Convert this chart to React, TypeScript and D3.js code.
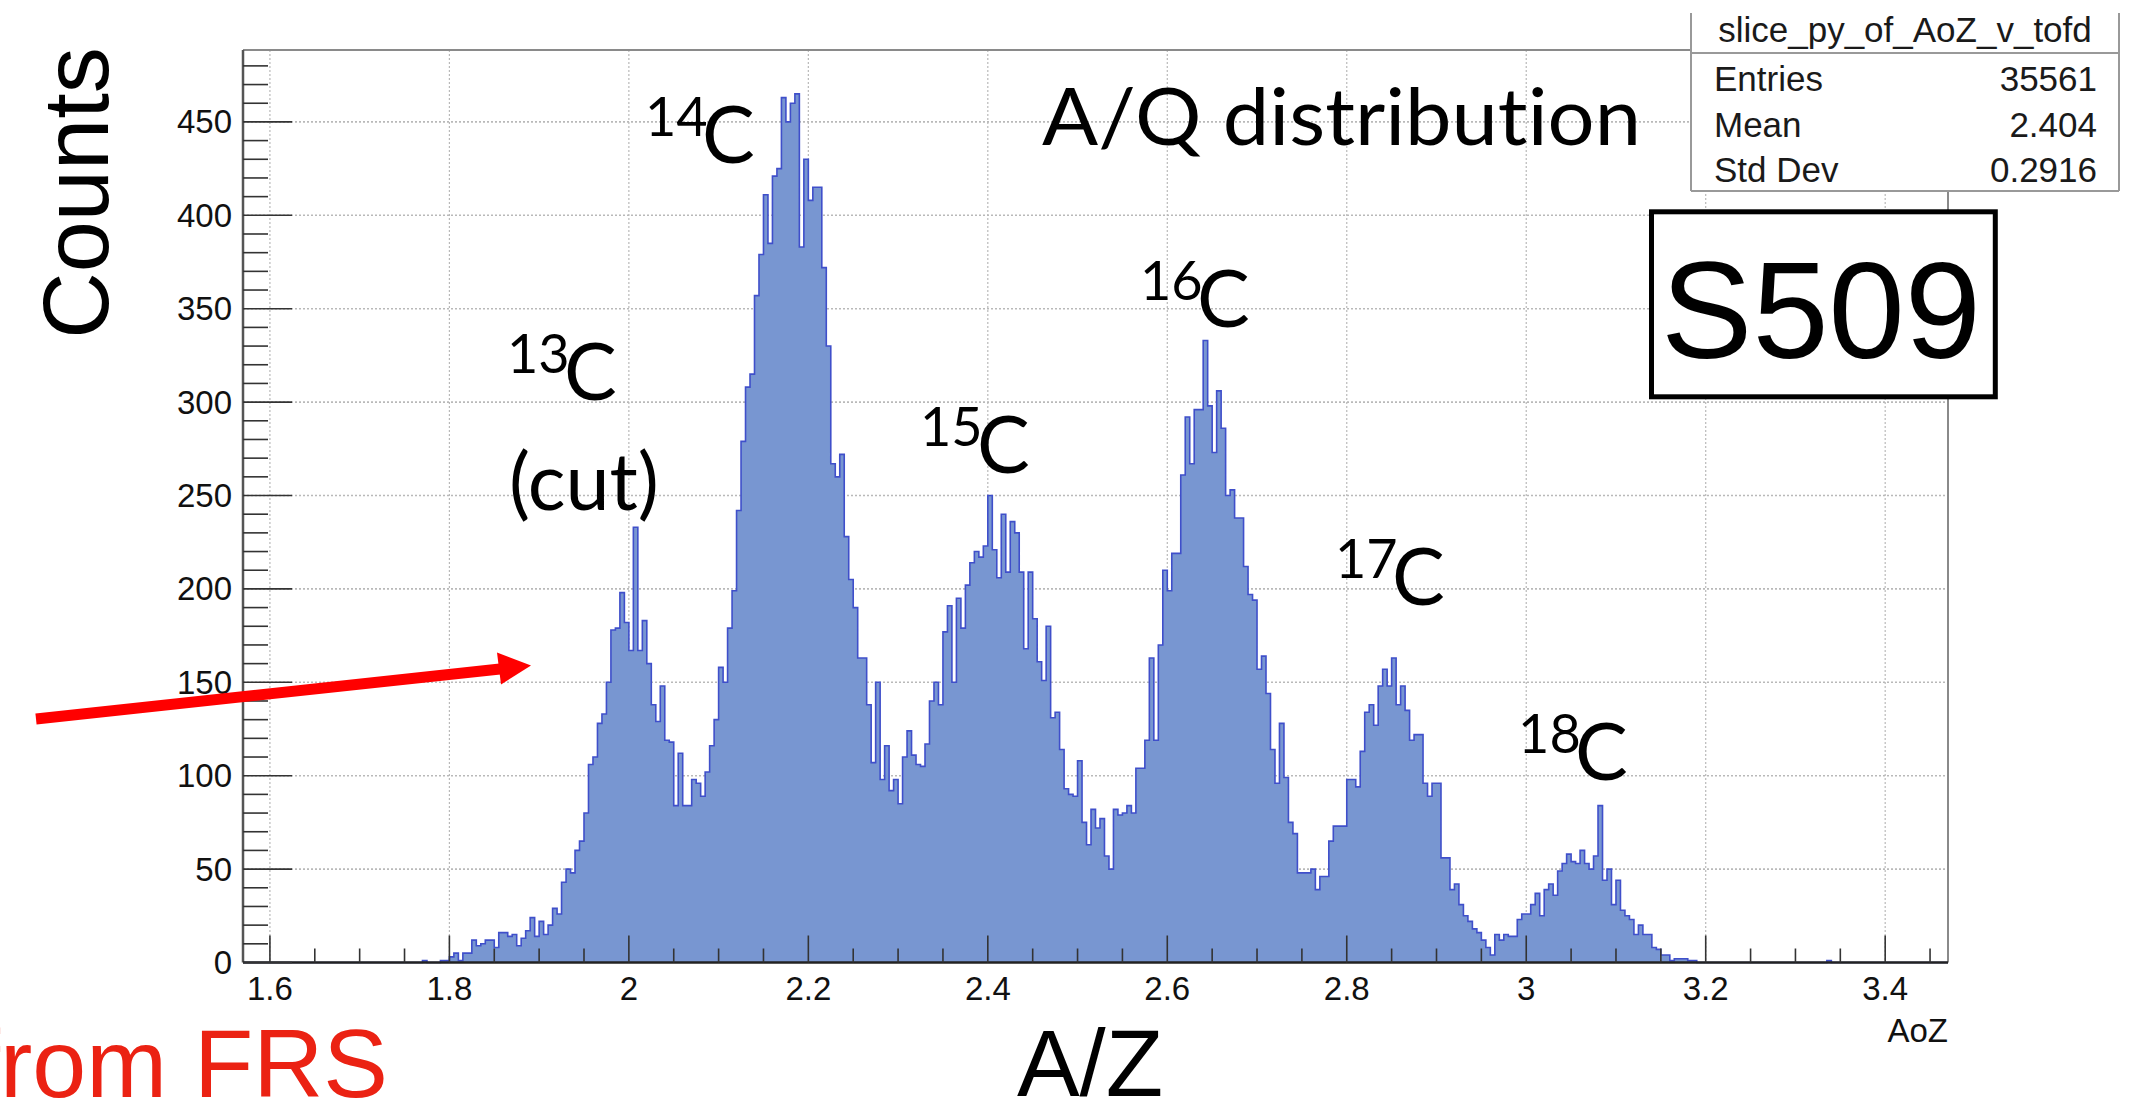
import React from "react";
import * as d3 from "d3";

// ---------------- data (bin width 0.005, first bin edge 1.770) ----------------
const BIN_WIDTH = 0.005;
const FIRST_BIN_EDGE = 1.77;

const lowTailCounts = [1, 0, 0, 0, 1, 1, 3, 5, 1, 5, 5, 12, 9, 10, 12, 12, 8, 16, 16, 14, 15, 9, 13, 17, 24, 14, 22, 15, 20, 29, 26];
const c13Counts = [43, 50, 48, 60, 65, 80, 106, 110, 128, 133, 150, 178, 179, 198, 182, 167, 233, 167, 183, 160, 138, 129, 148, 119, 118, 84, 112, 84, 84, 98, 96, 89, 102, 116, 130, 158, 150, 179];
const c14Counts = [199, 242, 279, 308, 315, 357, 379, 411, 385, 421, 425, 463, 450, 460, 465, 383, 430, 408, 415, 415, 372, 330, 267, 260, 272, 228, 205];
const valley14to15 = [190, 163, 163, 138, 107, 150, 98, 116, 92, 98, 85, 110, 124, 111, 106, 105, 117, 140, 150, 138];
const c15Counts = [177, 191, 150, 195, 179, 202, 214, 220, 217, 223, 250, 221, 206, 240, 209, 236, 230, 209, 168, 209, 184, 161, 151, 180, 131];
const valley15to16 = [134, 114, 93, 90, 89, 108, 75, 63, 82, 72, 77, 57, 50, 82, 79, 80, 84, 80, 104, 104, 119, 163];
const c16Counts = [119, 170, 210, 199, 219, 219, 261, 292, 267, 296, 296, 333, 298, 273, 306, 286, 250, 253, 238, 238, 212, 197, 194, 157];
const valley16to17 = [164, 144, 114, 96, 128, 99, 75, 69, 48, 48, 48, 50, 39, 46, 46, 65, 73, 73, 73, 98];
const c17Counts = [98, 94, 113, 134, 138, 127, 148, 157, 148, 163, 138, 148, 135, 119, 122, 122, 96, 89, 96, 96];
const valley17to18 = [56, 56, 39, 42, 31, 25, 22, 18, 16, 12, 8, 4, 15, 12, 15, 14, 14, 23, 26];
const c18Counts = [26, 31, 37, 25, 39, 42, 36, 49, 53, 58, 54, 53, 60, 53, 50, 57, 84, 44, 50, 31, 44, 28, 25, 23, 15, 20, 15, 15, 8, 7, 4, 4, 1, 2, 2, 2, 1, 1];
const strayEdges = [3.335];
const strayCounts = [1];

const X_RANGE = [1.57, 3.47];
const Y_RANGE = [0, 488.5];

const xMajorTicks = [1.6, 1.8, 2.0, 2.2, 2.4, 2.6, 2.8, 3.0, 3.2, 3.4];
const xTickLabels = ["1.6", "1.8", "2", "2.2", "2.4", "2.6", "2.8", "3", "3.2", "3.4"];
const yMajorTicks = [0, 50, 100, 150, 200, 250, 300, 350, 400, 450];
const yTickLabels = ["0", "50", "100", "150", "200", "250", "300", "350", "400", "450"];

const isotopeMasses = ["13", "14", "15", "16", "17", "18"];
const isotopeAoZ = [1.9322, 2.086, 2.3924, 2.6376, 2.8549, 3.0589];
const isotopeCounts = [301, 428, 262, 340.2, 191.4, 97.7];

const statsNames = ["Entries", "Mean", "Std Dev"];
const statsValues = ["35561", "2.404", "0.2916"];

// ---------------- styles ----------------
const HELV = "'Liberation Sans', Arial, Helvetica, sans-serif";
const CAL = "Lato, 'Open Sans', sans-serif";
const noLig = { fontVariantLigatures: "none", fontFeatureSettings: "'liga' 0, 'clig' 0" } as React.CSSProperties;

export default function App() {
  const W = 2151;
  const H = 1106;
  const L = 243, R = 1948, T = 50, B = 962.5;

  const xScale = d3.scaleLinear().domain(X_RANGE).range([L, R]);
  const yScale = d3.scaleLinear().domain(Y_RANGE).range([B, T]);

  const mainCounts = [
    ...lowTailCounts, ...c13Counts, ...c14Counts, ...valley14to15, ...c15Counts,
    ...valley15to16, ...c16Counts, ...valley16to17, ...c17Counts, ...valley17to18, ...c18Counts,
  ];
  const r = (v: number) => Math.round(v * 10000) / 10000;
  const bins = mainCounts.map((c, i) => ({
    x0: r(FIRST_BIN_EDGE + i * BIN_WIDTH),
    x1: r(FIRST_BIN_EDGE + (i + 1) * BIN_WIDTH),
    c,
  }));
  strayEdges.forEach((e, i) => bins.push({ x0: e, x1: r(e + BIN_WIDTH), c: strayCounts[i] }));
  bins.sort((a, b) => a.x0 - b.x0);

  const pts: [number, number][] = [[X_RANGE[0], 0]];
  let prevX1 = X_RANGE[0];
  bins.forEach((b) => {
    if (b.x0 > prevX1 + 1e-9) {
      pts.push([prevX1, 0]);
      pts.push([b.x0, 0]);
    }
    pts.push([b.x0, b.c]);
    pts.push([b.x1, b.c]);
    prevX1 = b.x1;
  });
  pts.push([prevX1, 0]);
  pts.push([X_RANGE[1], 0]);

  const area = d3.area<[number, number]>()
    .x((d) => xScale(d[0]))
    .y0(yScale(0))
    .y1((d) => yScale(d[1]));
  const line = d3.line<[number, number]>()
    .x((d) => xScale(d[0]))
    .y((d) => yScale(d[1]));

  const xMinorTicks = d3.range(0, 38).map((i) => r(1.6 + i * 0.05)).filter((v) => v <= X_RANGE[1] && !xMajorTicks.some((m) => Math.abs(m - v) < 1e-6));
  const yMinorTicks = d3.range(0, 49).map((i) => i * 10).filter((v) => v <= Y_RANGE[1] && v % 50 !== 0);

  const gridColor = "#b9b9b9";
  const tickColor = "#333";

  return (
    <svg width={W} height={H} style={{ position: "absolute", left: 0, top: 0, background: "#fff" }}>
      <rect x={0} y={0} width={W} height={H} fill="#fff" />

      {/* grid */}
      {xMajorTicks.map((t) => (
        <line key={"gx" + t} x1={xScale(t)} x2={xScale(t)} y1={T} y2={B} stroke={gridColor} strokeWidth={1.2} strokeDasharray="2 2" />
      ))}
      {yMajorTicks.filter((t) => t > 0).map((t) => (
        <line key={"gy" + t} x1={L} x2={R} y1={yScale(t)} y2={yScale(t)} stroke={gridColor} strokeWidth={1.6} strokeDasharray="2 2" />
      ))}

      {/* histogram */}
      <path d={area(pts) || ""} fill="#7896d1" stroke="none" />
      <path d={line(pts) || ""} fill="none" stroke="#3f4fca" strokeWidth={1.6} />

      {/* frame */}
      <line x1={L} x2={R} y1={T} y2={T} stroke="#8a8a8a" strokeWidth={2} />
      <line x1={R} x2={R} y1={T} y2={B} stroke="#8a8a8a" strokeWidth={2} />
      <line x1={L} x2={L} y1={T} y2={B} stroke="#555" strokeWidth={2.5} />
      <line x1={L} x2={R} y1={B} y2={B} stroke="#222" strokeWidth={2.5} />

      {/* x ticks */}
      {xMajorTicks.map((t) => (
        <line key={"xt" + t} x1={xScale(t)} x2={xScale(t)} y1={B} y2={B - 27} stroke={tickColor} strokeWidth={1.6} />
      ))}
      {xMinorTicks.map((t) => (
        <line key={"xm" + t} x1={xScale(t)} x2={xScale(t)} y1={B} y2={B - 14} stroke={tickColor} strokeWidth={1.6} />
      ))}
      {/* y ticks */}
      {yMajorTicks.map((t) => (
        <line key={"yt" + t} x1={L} x2={L + 49} y1={yScale(t)} y2={yScale(t)} stroke={tickColor} strokeWidth={1.6} />
      ))}
      {yMinorTicks.map((t) => (
        <line key={"ym" + t} x1={L} x2={L + 25} y1={yScale(t)} y2={yScale(t)} stroke={tickColor} strokeWidth={1.6} />
      ))}

      {/* tick labels */}
      {xMajorTicks.map((t, i) => (
        <text key={"xl" + t} x={xScale(t)} y={1000} textAnchor="middle" fontFamily={HELV} fontSize={33} fill="#111">
          {xTickLabels[i]}
        </text>
      ))}
      {yMajorTicks.map((t, i) => (
        <text key={"yl" + t} x={232} y={yScale(t) + 11.5} textAnchor="end" fontFamily={HELV} fontSize={33} fill="#111">
          {yTickLabels[i]}
        </text>
      ))}
      <text x={R} y={1042} textAnchor="end" fontFamily={HELV} fontSize={33} fill="#111">AoZ</text>

      {/* axis titles */}
      <text x={108} y={193} transform="rotate(-90 108 193)" textAnchor="middle" fontFamily={HELV} fontSize={92} fill="#000">Counts</text>
      <text x={1090} y={1096} textAnchor="middle" fontFamily={HELV} fontSize={94} fill="#000">A/Z</text>

      {/* annotations */}
      <text x={1042} y={145} fontFamily={CAL} fontSize={79} textLength={599} lengthAdjust="spacingAndGlyphs" fill="#000" style={noLig}>A/Q distribution</text>
      {isotopeMasses.map((m, i) => {
        const cx = xScale(isotopeAoZ[i]);
        const cy = yScale(isotopeCounts[i]);
        return (
          <g key={"iso" + m}>
            <text x={cx - 61} y={cy - 27} fontFamily={CAL} fontSize={54} fill="#000">{m}</text>
            <text x={cx - 4} y={cy} fontFamily={CAL} fontSize={79} fill="#000">C</text>
          </g>
        );
      })}
      <text x={xScale(1.8698) - 3} y={yScale(242.2)} fontFamily={CAL} fontSize={79} fill="#000">(cut)</text>

      {/* stats box */}
      <rect x={1691} y={13} width={428} height={178} fill="#fff" stroke="none" />
      <line x1={1691} x2={1691} y1={13} y2={191} stroke="#999" strokeWidth={2} />
      <line x1={2119} x2={2119} y1={13} y2={191} stroke="#999" strokeWidth={2} />
      <line x1={1691} x2={2119} y1={191} y2={191} stroke="#999" strokeWidth={2} />
      <line x1={1691} x2={2119} y1={53} y2={53} stroke="#999" strokeWidth={2} />
      <text x={1905} y={42} textAnchor="middle" fontFamily={HELV} fontSize={35} fill="#1a1a1a">slice_py_of_AoZ_v_tofd</text>
      {statsNames.map((n, i) => (
        <g key={"st" + n}>
          <text x={1714} y={91 + i * 45.5} fontFamily={HELV} fontSize={35} fill="#1a1a1a">{n}</text>
          <text x={2097} y={91 + i * 45.5} textAnchor="end" fontFamily={HELV} fontSize={35} fill="#1a1a1a">{statsValues[i]}</text>
        </g>
      ))}

      {/* S509 box */}
      <rect x={1651.5} y={211.8} width={343.8} height={185} fill="#fff" stroke="#000" strokeWidth={5} />
      <text x={1821} y={358} textAnchor="middle" fontFamily={HELV} fontSize={137} fill="#000">S509</text>

      {/* red arrow */}
      <line x1={36} y1={719} x2={500} y2={669} stroke="#ff0000" strokeWidth={11} />
      <polygon points="497,652.5 531,665.5 501,684.5" fill="#ff0000" />
      <text x={388} y={1097} textAnchor="end" fontFamily={HELV} fontSize={97} fill="#eb2213">from FRS</text>
    </svg>
  );
}
